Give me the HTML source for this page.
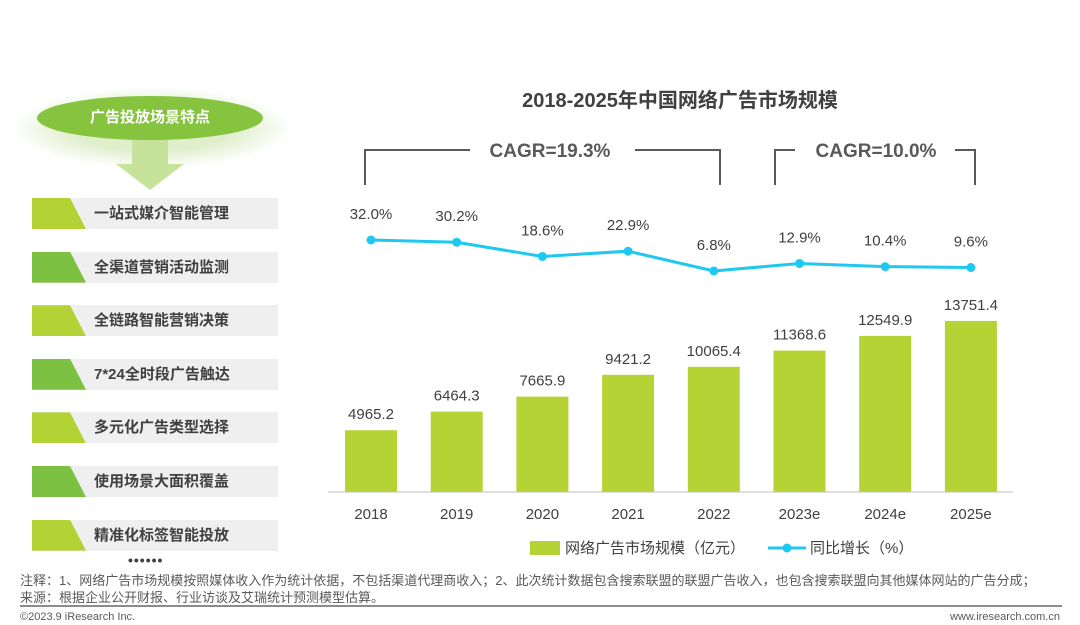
<!DOCTYPE html>
<html><head><meta charset="utf-8"><style>
body{margin:0;width:1080px;height:625px;background:#fff;overflow:hidden;font-family:"Liberation Sans","Noto Sans CJK SC",sans-serif;position:relative}
.item{position:absolute;left:32px;width:246px;height:31px;background:#efefef}
.item .tag{position:absolute;left:0;top:0;width:54px;height:31px;clip-path:polygon(0 0,38px 0,54px 31px,0 31px)}
.item span{position:absolute;left:62px;top:0;line-height:31px;font-size:15px;font-weight:bold;color:#404040}
.note{position:absolute;left:20px;font-size:13px;color:#595959;white-space:nowrap}
</style></head><body>
<div style="position:absolute;left:14px;top:88px;width:276px;height:80px;border-radius:50%;background:radial-gradient(ellipse,#dfeecb 40%,#fff 72%)"></div>
<svg style="position:absolute;left:110px;top:140px" width="80" height="52"><polygon points="22,0 58,0 58,24 74,24 40,50 6,24 22,24" fill="#c6e29b"/></svg>
<div style="position:absolute;left:37px;top:96px;width:226px;height:44px;border-radius:50%;background:#86c440;color:#fff;font-weight:bold;font-size:15px;text-align:center;line-height:44px">广告投放场景特点</div>
<div id="items"></div>
<div style="position:absolute;left:128px;top:552px;font-size:14px;color:#404040;letter-spacing:1px;font-weight:bold">••••••</div>
<svg id="chart" width="1080" height="570" style="position:absolute;left:0;top:0"></svg>
<div class="note" style="top:570px">注释：1、网络广告市场规模按照媒体收入作为统计依据，不包括渠道代理商收入；2、此次统计数据包含搜索联盟的联盟广告收入，也包含搜索联盟向其他媒体网站的广告分成；</div>
<div class="note" style="top:587px">来源：根据企业公开财报、行业访谈及艾瑞统计预测模型估算。</div>
<div style="position:absolute;left:20px;top:605px;width:1042px;height:2px;background:#8c8c8c"></div>
<div class="note" style="top:611px;font-size:11px">©2023.9 iResearch Inc.</div>
<div class="note" style="top:611px;left:auto;right:20px;font-size:11px">www.iresearch.com.cn</div>
<script>
const features=["一站式媒介智能管理","全渠道营销活动监测","全链路智能营销决策","7*24全时段广告触达","多元化广告类型选择","使用场景大面积覆盖","精准化标签智能投放"];
const cats=["2018","2019","2020","2021","2022","2023e","2024e","2025e"];
const sizes=[4965.2,6464.3,7665.9,9421.2,10065.4,11368.6,12549.9,13751.4];
const growth=[32.0,30.2,18.6,22.9,6.8,12.9,10.4,9.6];
const itemsEl=document.getElementById('items');
features.forEach((f,i)=>{const d=document.createElement('div');d.className='item';d.style.top=(198+i*53.6)+'px';


d.innerHTML='<div class="tag" style="background:'+(i%2?'#7cc142':'#b3d235')+'"></div><span>'+f+'</span>';itemsEl.appendChild(d);});
const svg=document.getElementById('chart');const NS='http://www.w3.org/2000/svg';
function el(t,a,txt){const e=document.createElementNS(NS,t);for(const k in a)e.setAttribute(k,a[k]);if(txt!==undefined)e.textContent=txt;svg.appendChild(e);return e;}
const x=i=>371+i*85.7;const base=492;const yb=v=>base-v*0.01244;const yl=v=>240+(32-v)*1.23;
let t=el('text',{x:680,y:107,'text-anchor':'middle','font-size':20,'font-weight':'bold',fill:'#404040'},'2018-2025年中国网络广告市场规模');


sizes.forEach((v,i)=>{let r=el('rect',{x:x(i)-26,y:yb(v),width:52,height:base-yb(v),fill:'#b5d334'});


let l=el('text',{x:x(i),y:yb(v)-11,'text-anchor':'middle','font-size':15,fill:'#404040'},v.toFixed(1));


let c=el('text',{x:x(i),y:519,'text-anchor':'middle','font-size':15,fill:'#404040'},cats[i]);

});
let ax=el('line',{x1:328,x2:1013,y1:base,y2:base,stroke:'#bfbfbf','stroke-width':1});


let pl=el('polyline',{points:growth.map((v,i)=>x(i)+','+yl(v)).join(' '),fill:'none',stroke:'#1ec8f0','stroke-width':3});


growth.forEach((v,i)=>{let c=el('circle',{cx:x(i),cy:yl(v),r:4.5,fill:'#1ec8f0'});


let l=el('text',{x:x(i),y:yl(v)-21,'text-anchor':'middle','font-size':15,fill:'#404040'},v.toFixed(1)+'%');

});
function bracket(x1,x2,ta,tb,tx,label){let p=el('polyline',{points:`${x1},185 ${x1},150 ${ta},150`,fill:'none',stroke:'#595959','stroke-width':2});


let q=el('polyline',{points:`${tb},150 ${x2},150 ${x2},185`,fill:'none',stroke:'#595959','stroke-width':2});


let t=el('text',{x:tx,y:157,'text-anchor':'middle','font-size':19,'font-weight':'bold',fill:'#595959'},label);

}
bracket(365,720,470,635,550,'CAGR=19.3%');
bracket(775,975,795,955,876,'CAGR=10.0%');
let lr=el('rect',{x:530,y:541,width:30,height:14,fill:'#b5d334'});


let lt=el('text',{x:565,y:553,'font-size':15,fill:'#404040'},'网络广告市场规模（亿元）');


let ll=el('line',{x1:768,x2:806,y1:548,y2:548,stroke:'#1ec8f0','stroke-width':3});


let lc=el('circle',{cx:787,cy:548,r:4.5,fill:'#1ec8f0'});


let lt2=el('text',{x:810,y:553,'font-size':15,fill:'#404040'},'同比增长（%）');


</script>
</body></html>
